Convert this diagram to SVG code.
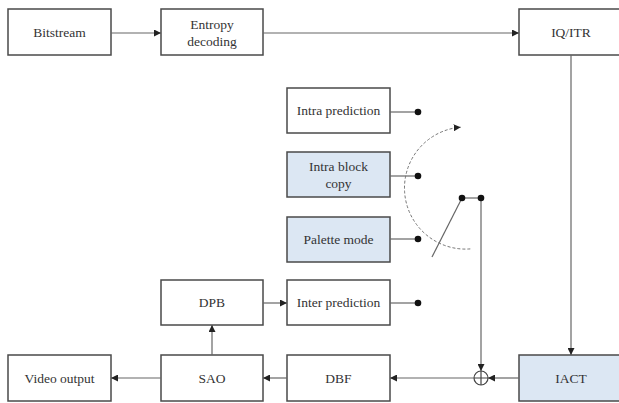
<svg xmlns="http://www.w3.org/2000/svg" width="619" height="403" viewBox="0 0 619 403">
<defs>
<marker id="arr" viewBox="0 0 10 10" refX="10" refY="5" markerWidth="7" markerHeight="7" markerUnits="userSpaceOnUse" orient="auto">
<path d="M0,0 L10,5 L0,10 z" fill="#222"/>
</marker>
<style>
.box{fill:#fff;stroke:#4a4a4a;stroke-width:1.5}
.blue{fill:#dce7f3}
.t{font-family:"Liberation Serif","Times New Roman",serif;font-size:13.5px;fill:#333;text-anchor:middle}
.ln{stroke:#666;stroke-width:1.2;fill:none}
.dot{fill:#111}
</style>
</defs>
<rect width="619" height="403" fill="#fff"/>
<g id="bitstream"><rect class="box" x="8" y="9" width="103" height="46"/><text class="t" x="59.5" y="37">Bitstream</text></g>
<g id="entropy"><rect class="box" x="161" y="9" width="102" height="46"/><text class="t" x="212" y="29">Entropy</text><text class="t" x="212" y="46">decoding</text></g>
<g id="iqitr"><rect class="box" x="519" y="9" width="104" height="46"/><text class="t" x="571" y="37">IQ/ITR</text></g>
<g id="intra"><rect class="box" x="287" y="88" width="103" height="45"/><text class="t" x="338.5" y="115">Intra prediction</text></g>
<g id="ibc"><rect class="box blue" x="287" y="152" width="103" height="45"/><text class="t" x="338.5" y="171">Intra block</text><text class="t" x="338.5" y="188">copy</text></g>
<g id="palette"><rect class="box blue" x="287" y="217" width="103" height="45"/><text class="t" x="338.5" y="244">Palette mode</text></g>
<g id="inter"><rect class="box" x="287" y="280" width="103" height="45"/><text class="t" x="338.5" y="307">Inter prediction</text></g>
<g id="dpb"><rect class="box" x="161" y="280" width="102" height="45"/><text class="t" x="212" y="307">DPB</text></g>
<g id="video"><rect class="box" x="8" y="355" width="103" height="46"/><text class="t" x="59.5" y="383">Video output</text></g>
<g id="sao"><rect class="box" x="161" y="355" width="102" height="46"/><text class="t" x="212" y="383">SAO</text></g>
<g id="dbf"><rect class="box" x="287" y="355" width="103" height="46"/><text class="t" x="338.5" y="383">DBF</text></g>
<g id="iact"><rect class="box blue" x="519" y="355" width="104" height="46"/><text class="t" x="571" y="383">IACT</text></g>
<g id="adder"><circle cx="481" cy="378" r="7" fill="#fff" stroke="#444" stroke-width="1.2"/><path d="M474,378 H488 M481,371 V385" stroke="#444" stroke-width="1.2"/></g>
<g id="connectors">
<line class="ln" x1="111" y1="33" x2="161" y2="33" marker-end="url(#arr)"/>
<line class="ln" x1="263" y1="33" x2="519" y2="33" marker-end="url(#arr)"/>
<line class="ln" x1="571" y1="55" x2="571" y2="355" marker-end="url(#arr)"/>
<line class="ln" x1="519" y1="378" x2="488" y2="378" marker-end="url(#arr)"/>
<line class="ln" x1="474" y1="378" x2="390" y2="378" marker-end="url(#arr)"/>
<line class="ln" x1="287" y1="378" x2="263" y2="378" marker-end="url(#arr)"/>
<line class="ln" x1="161" y1="378" x2="111" y2="378" marker-end="url(#arr)"/>
<line class="ln" x1="212" y1="355" x2="212" y2="325" marker-end="url(#arr)"/>
<line class="ln" x1="263" y1="303" x2="287" y2="303" marker-end="url(#arr)"/>
<line class="ln" x1="390" y1="112" x2="418" y2="112"/>
<line class="ln" x1="390" y1="176" x2="418" y2="176"/>
<line class="ln" x1="390" y1="239" x2="418" y2="239"/>
<line class="ln" x1="390" y1="303" x2="418" y2="303"/>
<circle class="dot" cx="418" cy="112" r="3.3"/>
<circle class="dot" cx="418" cy="176" r="3.3"/>
<circle class="dot" cx="418" cy="239" r="3.3"/>
<circle class="dot" cx="418" cy="303" r="3.3"/>
<line class="ln" x1="462" y1="198" x2="481" y2="198"/>
<line class="ln" x1="462" y1="198" x2="432" y2="257"/>
<line class="ln" x1="481" y1="198" x2="481" y2="371" marker-end="url(#arr)"/>
<circle class="dot" cx="462" cy="198" r="3.3"/>
<circle class="dot" cx="481" cy="198" r="3.3"/>
<path d="M470.3,248.9 A61,61 0 0 1 460.7,127.2" fill="none" stroke="#777" stroke-width="1" stroke-dasharray="3 2" marker-end="url(#arr)"/>
</g>
</svg>
